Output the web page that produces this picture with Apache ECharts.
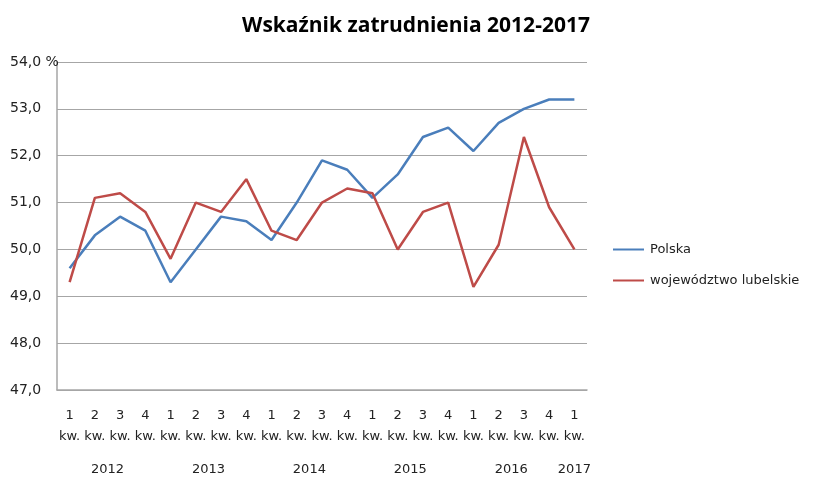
<!DOCTYPE html>
<html>
<head>
<meta charset="utf-8">
<script src="https://cdn.jsdelivr.net/npm/echarts@6/dist/echarts.min.js"></script>
<style>
  html, body { margin: 0; padding: 0; background: #fff; }
  #chart { width: 816px; height: 477px; }
</style>
</head>
<body>
<div id="chart"></div>
<script>
var quarters = ['1', '2', '3', '4', '1', '2', '3', '4', '1', '2', '3', '4', '1', '2', '3', '4', '1', '2', '3', '4', '1'];
var years = ['2012', '2013', '2014', '2015', '2016', '2017'];
// indeks pierwszego i ostatniego kwartału danego roku
var yearFrom = [0, 4, 8, 12, 16, 20];
var yearTo = [3, 7, 11, 15, 19, 20];
var polska = [49.6, 50.3, 50.7, 50.4, 49.3, 50.0, 50.7, 50.6, 50.2, 51.0, 51.9, 51.7, 51.1, 51.6, 52.4, 52.6, 52.1, 52.7, 53.0, 53.2, 53.2];
var lubelskie = [49.3, 51.1, 51.2, 50.8, 49.8, 51.0, 50.8, 51.5, 50.4, 50.2, 51.0, 51.3, 51.2, 50.0, 50.8, 51.0, 49.2, 50.1, 52.4, 50.9, 50.0];

var chart = echarts.init(document.getElementById('chart'));
var option = {
    animation: false,
    title: {
        text: 'Wskaźnik zatrudnienia 2012-2017',
        left: 411,
        textAlign: 'center',
        top: 11,
        textStyle: { fontFamily: 'Open Sans', fontWeight: 'bold', fontSize: 21, color: '#000' }
    },
    legend: {
        orient: 'vertical',
        left: 608,
        top: 238,
        itemWidth: 31,
        itemHeight: 12,
        itemGap: 18,
        icon: 'path://M0,5 L31,5 L31,7 L0,7 Z',
        textStyle: { fontFamily: 'DejaVu Sans', fontSize: 13, color: '#222', padding: [0, 0, 0, 1] },
        data: ['Polska', 'województwo lubelskie']
    },
    grid: { left: 57, right: 229, top: 62, bottom: 87 },
    xAxis: {
        type: 'category',
        data: quarters,
        boundaryGap: true,
        axisLine: { lineStyle: { color: '#a6a6a6', width: 1.5 } },
        axisTick: { show: false },
        axisLabel: {
            interval: 0,
            margin: 15,
            fontFamily: 'DejaVu Sans',
            fontSize: 13,
            color: '#222',
            lineHeight: 21,
            formatter: function (v) { return v + '\nkw.'; }
        }
    },
    yAxis: {
        type: 'value',
        min: 47,
        max: 54,
        interval: 1,
        axisLine: { show: true, lineStyle: { color: '#a6a6a6', width: 1.5 } },
        axisTick: { show: false },
        splitLine: { lineStyle: { color: '#a6a6a6', width: 1.2 } },
        axisLabel: {
            margin: 47,
            align: 'left',
            fontFamily: 'DejaVu Sans',
            fontSize: 14,
            color: '#222',
            formatter: function (v) {
                var s = v.toFixed(1).replace('.', ',');
                return v === 54 ? s + ' %' : s;
            }
        }
    },
    series: [
        {
            name: 'Polska',
            type: 'line',
            data: polska,
            symbol: 'none',
            lineStyle: { color: '#4a7ebb', width: 2.5 },
            itemStyle: { color: '#4a7ebb' }
        },
        {
            name: 'województwo lubelskie',
            type: 'line',
            data: lubelskie,
            symbol: 'none',
            lineStyle: { color: '#be4b48', width: 2.5 },
            itemStyle: { color: '#be4b48' }
        }
    ]
};
chart.setOption(option);

// etykiety lat pod kwartałami
var yearLabels = years.map(function (y, i) {
    var a = chart.convertToPixel({ xAxisIndex: 0 }, yearFrom[i]);
    var b = chart.convertToPixel({ xAxisIndex: 0 }, yearTo[i]);
    var base = chart.convertToPixel({ yAxisIndex: 0 }, 47);
    return {
        type: 'text',
        x: (a + b) / 2,
        y: base + 80,
        style: {
            text: y,
            fontFamily: 'DejaVu Sans',
            fontSize: 13,
            fill: '#222',
            align: 'center',
            verticalAlign: 'middle'
        }
    };
});
chart.setOption({ graphic: yearLabels });
</script>
</body>
</html>
